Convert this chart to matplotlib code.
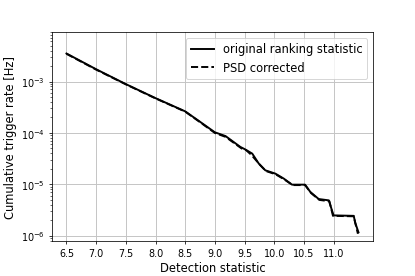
import matplotlib
matplotlib.use('Agg')
import matplotlib.pyplot as plt

# Detection statistic vs cumulative trigger rate
stat = [6.5, 7.0, 7.5, 8.0, 8.5, 8.75, 9.0, 9.18, 9.43, 9.51, 9.63, 9.74, 9.85,
        10.02, 10.16, 10.3, 10.52, 10.61, 10.75, 10.92, 11.0, 11.34, 11.365, 11.42]
rate_orig = [3.5e-3, 1.73e-3, 8.9e-4, 4.75e-4, 2.63e-4, 1.65e-4, 1.03e-4, 8.7e-5,
             5.35e-5, 4.8e-5, 3.97e-5, 2.54e-5, 1.88e-5, 1.62e-5, 1.3e-5, 9.9e-6,
             9.9e-6, 7.1e-6, 5.2e-6, 4.9e-6, 2.5e-6, 2.45e-6, 1.8e-6, 1.17e-6]

stat_psd = [6.5, 7.0, 7.5, 8.0, 8.5, 8.75, 9.0, 9.18, 9.45, 9.53, 9.62, 9.76, 9.86,
            10.02, 10.16, 10.31, 10.52, 10.62, 10.76, 10.93, 10.99, 11.34, 11.37, 11.41]
rate_psd = [3.45e-3, 1.7e-3, 8.8e-4, 4.7e-4, 2.6e-4, 1.62e-4, 1.0e-4, 8.4e-5,
            5.0e-5, 4.6e-5, 3.7e-5, 2.4e-5, 1.82e-5, 1.58e-5, 1.27e-5, 9.7e-6,
            9.7e-6, 6.8e-6, 5.0e-6, 4.7e-6, 2.45e-6, 2.4e-6, 1.7e-6, 1.1e-6]

plt.rcParams['font.size'] = 12
plt.rcParams['xtick.labelsize'] = 10
plt.rcParams['ytick.labelsize'] = 10
plt.rcParams['grid.color'] = '#c4c4c4'
plt.rcParams['grid.linewidth'] = 1.0

fig = plt.figure(figsize=(6, 4), dpi=415/6)
ax = fig.add_subplot(111)
fig.subplots_adjust(left=0.125, right=0.899, top=0.881, bottom=0.126)

ax.plot(stat, rate_orig, color='black', lw=2, label='original ranking statistic')
ax.plot(stat_psd, rate_psd, color='black', lw=2, ls='--', label='PSD corrected')

ax.set_yscale('log')
ax.set_ylim(7.9e-7, 9.06e-3)
ax.set_xticks([6.5, 7.0, 7.5, 8.0, 8.5, 9.0, 9.5, 10.0, 10.5, 11.0])
ax.grid(True)
ax.set_xlabel('Detection statistic')
ax.set_ylabel('Cumulative trigger rate [Hz]')
ax.legend(loc='upper right')

fig.savefig('out.png', dpi=415/6)
